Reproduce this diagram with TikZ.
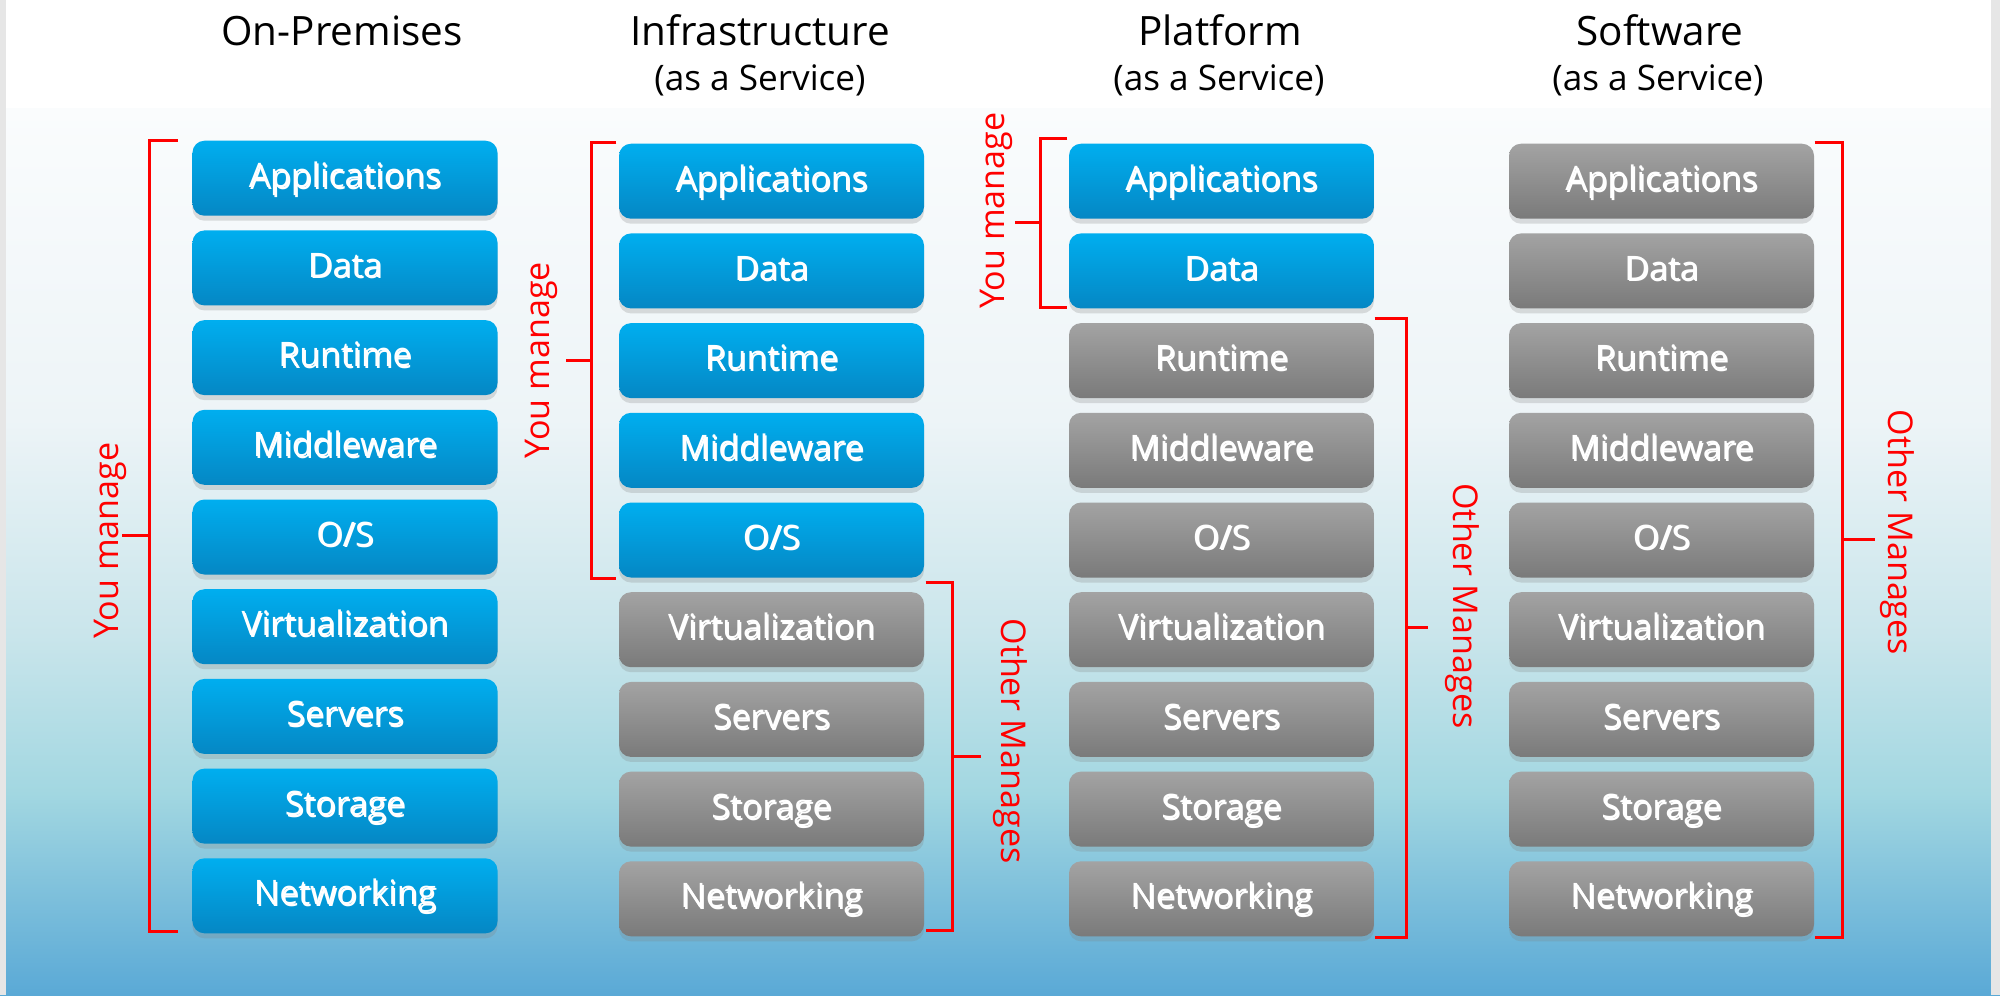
\documentclass[tikz,border=0pt]{standalone}
\usepackage{fontspec}
\setmainfont{Open Sans}
\usetikzlibrary{matrix,positioning,shadows}

\definecolor{layerblue}{HTML}{00AEEF}
\definecolor{layerbluedk}{HTML}{0587C4}
\definecolor{layergray}{HTML}{A3A3A3}
\definecolor{layergraydk}{HTML}{7A7A7A}
\definecolor{mgmtred}{HTML}{FF0000}
\definecolor{rimgray}{HTML}{E6E6E6}
\definecolor{skyA}{HTML}{FAFCFD}
\definecolor{skyB}{HTML}{EDF4F7}
\definecolor{skyC}{HTML}{C9E5EB}
\definecolor{skyD}{HTML}{A2D7E1}
\definecolor{skyE}{HTML}{5AA9D6}

\tikzset{
layer/.style={
  rectangle,
  rounded corners=0.12cm,
  minimum width=3.05cm,
  minimum height=0.75cm,
  text height=7.2pt,
  text depth=2pt,
  top color=layerblue,
  bottom color=layerbluedk,
  text=white,
  font=\fontsize{9.6}{11}\selectfont,
  drop shadow={shadow xshift=0pt,shadow yshift=-0.05cm,opacity=0.25},
  execute at begin node={\setbox0=\hbox\bgroup},
  execute at end node={\egroup\rlap{\kern0.4pt\raisebox{-0.5pt}{\color{black!45}\copy0}}\box0}
  },
graylayer/.style={top color=layergray, bottom color=layergraydk},
grayrow/.style={row #1/.style={nodes={graylayer}}},
stack/.style={
  matrix of nodes,
  nodes={layer},
  row sep=0.147cm,
  inner sep=0pt,
  anchor=north
  },
bracket/.style={draw=mgmtred, line width=0.85pt},
mgmt/.style={text=mgmtred, font=\fontsize{9.7}{11}\selectfont},
coltitle/.style={anchor=base, font=\fontsize{11.5}{13}\selectfont},
colsub/.style={anchor=base, font=\fontsize{10}{12}\selectfont}
}

\begin{document}
\begin{tikzpicture}

% backdrop
\fill[white] (0,0) rectangle (20,-1.09);
\shade[top color=skyA,bottom color=skyB] (0,-1.08) rectangle (20,-4.21);
\shade[top color=skyB,bottom color=skyC] (0,-4.2) rectangle (20,-6.36);
\shade[top color=skyC,bottom color=skyD] (0,-6.35) rectangle (20,-7.94);
\shade[top color=skyD,bottom color=skyE] (0,-7.93) rectangle (20,-9.95);
\fill[rimgray] (0,0) rectangle (0.06,-9.95);
\fill[rimgray] (19.91,0) rectangle (20,-9.95);
\useasboundingbox (0,0) rectangle (20,-9.95);

\node[coltitle] (onprem-title) at (3.42,-0.45) {On-Premises};
\node[coltitle] (iaas-title) at (7.60,-0.45) {Infrastructure};
\node[colsub] (iaas-sub) at (7.60,-0.90) {(as a Service)};
\node[coltitle] (paas-title) at (12.20,-0.45) {Platform};
\node[colsub] (paas-sub) at (12.19,-0.90) {(as a Service)};
\node[coltitle] (saas-title) at (16.60,-0.45) {Software};
\node[colsub] (saas-sub) at (16.58,-0.90) {(as a Service)};

\matrix[stack] at (3.45,-1.40) (onprem)
{
  Applications \\ Data \\ Runtime \\ Middleware \\ O/S \\
  Virtualization \\ Servers \\ Storage \\ Networking \\ };

\matrix[stack, grayrow/.list={6,7,8,9}] at (7.715,-1.43) (iaas)
{
  Applications \\ Data \\ Runtime \\ Middleware \\ O/S \\
  Virtualization \\ Servers \\ Storage \\ Networking \\ };

\matrix[stack, grayrow/.list={3,4,5,6,7,8,9}] at (12.215,-1.43) (paas)
{
  Applications \\ Data \\ Runtime \\ Middleware \\ O/S \\
  Virtualization \\ Servers \\ Storage \\ Networking \\ };

\matrix[stack, grayrow/.list={1,...,9}] at (16.615,-1.43) (saas)
{
  Applications \\ Data \\ Runtime \\ Middleware \\ O/S \\
  Virtualization \\ Servers \\ Storage \\ Networking \\ };

% on-premises
\draw[bracket] ([xshift=-0.14cm]onprem-1-1.north west) -- ++(-0.28,0)
  |- ([xshift=-0.14cm,yshift=0.03cm]onprem-9-1.south west) coordinate[pos=0.25] (onprem-mid);
\draw[bracket] (onprem-mid) -- ++(-0.28,0) coordinate (onprem-tick);
\node[mgmt,rotate=90] (onprem-you) at ([xshift=-0.11cm,yshift=-0.05cm]onprem-tick) {You manage};

% iaas
\draw[bracket] ([xshift=-0.02cm,yshift=0.01cm]iaas-1-1.north west) -- ++(-0.25,0)
  |- ([xshift=-0.02cm]iaas-5-1.south west) coordinate[pos=0.25] (iaas-ymid);
\draw[bracket] (iaas-ymid) -- ++(-0.25,0) coordinate (iaas-ytick);
\node[mgmt,rotate=90] (iaas-you) at ([xshift=-0.25cm]iaas-ytick) {You manage};

\draw[bracket] ([xshift=0.01cm,yshift=0.095cm]iaas-6-1.north east) -- ++(0.27,0)
  |- ([xshift=0.01cm,yshift=0.07cm]iaas-9-1.south east) coordinate[pos=0.25] (iaas-omid);
\draw[bracket] (iaas-omid) -- ++(0.28,0) coordinate (iaas-otick);
\node[mgmt,rotate=-90] (iaas-other) at ([xshift=0.30cm,yshift=0.15cm]iaas-otick) {Other Manages};

% paas
\draw[bracket] ([xshift=-0.01cm,yshift=0.05cm]paas-1-1.north west) -- ++(-0.27,0)
  |- ([xshift=-0.01cm,yshift=0.02cm]paas-2-1.south west) coordinate[pos=0.25] (paas-ymid);
\draw[bracket] (paas-ymid) -- ++(-0.25,0) coordinate (paas-ytick);
\node[mgmt,rotate=90] (paas-you) at ([xshift=-0.19cm,yshift=0.12cm]paas-ytick) {You manage};

\draw[bracket] ([yshift=0.035cm]paas-3-1.north east) -- ++(0.32,0)
  |- (paas-9-1.south east) coordinate[pos=0.25] (paas-omid);
\draw[bracket] (paas-omid) -- ++(0.21,0) coordinate (paas-otick);
\node[mgmt,rotate=-90] (paas-other) at ([xshift=0.35cm,yshift=0.22cm]paas-otick) {Other Manages};

% saas
\draw[bracket] ([yshift=0.01cm]saas-1-1.north east) -- ++(0.28,0)
  |- (saas-9-1.south east) coordinate[pos=0.25] (saas-omid);
\draw[bracket] (saas-omid) -- ++(0.32,0) coordinate (saas-otick);
\node[mgmt,rotate=-90] (saas-other) at ([xshift=0.23cm,yshift=0.07cm]saas-otick) {Other Manages};

\end{tikzpicture}
\end{document}
